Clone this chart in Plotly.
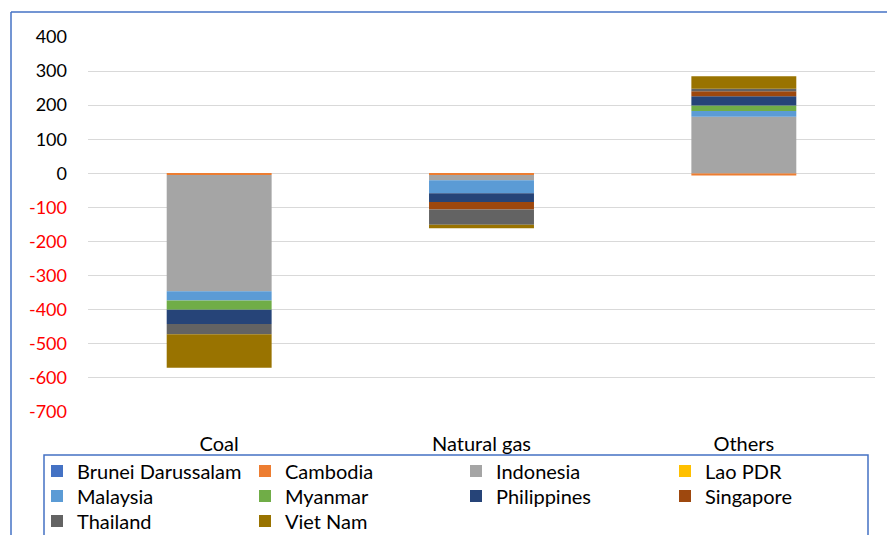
import plotly.graph_objects as go

categories = ["Coal", "Natural gas", "Others"]
countries = ["Brunei Darussalam", "Cambodia", "Indonesia", "Lao PDR", "Malaysia",
             "Myanmar", "Philippines", "Singapore", "Thailand", "Viet Nam"]
brunei = [0, 0, 0]
cambodia = [-5, -5, -6]
indonesia = [-341, -15, 166]
lao = [0, 0, 0]
malaysia = [-27, -38, 17]
myanmar = [-27, 0, 16]
philippines = [-42, -26, 27]
singapore = [0, -22, 15]
thailand = [-30, -45, 7]
vietnam = [-98, -10, 37]
series = [brunei, cambodia, indonesia, lao, malaysia, myanmar, philippines,
          singapore, thailand, vietnam]
colors = ["#4472C4", "#ED7D31", "#A5A5A5", "#FFC000", "#5B9BD5", "#70AD47",
          "#264478", "#9E480E", "#636363", "#997300"]

y_ticks = [400, 300, 200, 100, 0, -100, -200, -300, -400, -500, -600, -700]
y_ticktext = [str(v) if v >= 0 else f'<span style="color:#FF0000">{v}</span>' for v in y_ticks]

FONT = "Lato"
W, H = 887, 535
L, R, T, B = 88, 12, 37, 123
pw, ph = W - L - R, H - T - B

# legend grid (4 columns x 3 rows), pixel positions of each entry
col_x = [37, 245, 456, 665]
row_y = [471, 496, 521]

fig = go.Figure()
legend_layouts = {}
for i, (name, vals, col) in enumerate(zip(countries, series, colors)):
    key = "legend" if i == 0 else f"legend{i + 1}"
    fig.add_trace(go.Bar(x=categories, y=vals, name=name,
                         marker=dict(color=col, line=dict(width=0)),
                         width=0.4, legend=key))
    r, c = divmod(i, 4)
    legend_layouts[key] = dict(
        xref="container", yref="container", x=col_x[c] / W, y=1 - row_y[r] / H,
        xanchor="left", yanchor="middle", orientation="v",
        font=dict(size=20, family=FONT, color="#000000"),
        bgcolor="rgba(0,0,0,0)", borderwidth=0, itemwidth=30,
    )


def px(x):
    return (x - L) / pw


def py(y):
    return (H - B - y) / ph


fig.update_layout(
    width=W, height=H,
    margin=dict(l=L, r=R, t=T, b=B, autoexpand=False),
    barmode="relative",
    paper_bgcolor="white", plot_bgcolor="white",
    font=dict(family=FONT, size=20, color="#000000"),
    xaxis=dict(showgrid=False, showline=False, ticks="", ticklabelstandoff=18,
               tickfont=dict(size=20, family=FONT)),
    yaxis=dict(range=[-700, 400], tickvals=y_ticks, ticktext=y_ticktext,
               showgrid=True, gridcolor="#D9D9D9", gridwidth=1, zeroline=True,
               zerolinecolor="#D9D9D9", zerolinewidth=1, showline=False, ticks="",
               ticklabelstandoff=20, tickfont=dict(size=18, family=FONT)),
    showlegend=True,
    shapes=[
        dict(type="rect", xref="paper", yref="paper", x0=px(44), x1=px(868),
             y0=py(560), y1=py(455), line=dict(color="#4472C4", width=1.5)),
        dict(type="line", xref="paper", yref="paper", x0=px(11), x1=px(11),
             y0=py(560), y1=py(12), line=dict(color="#4472C4", width=1.5)),
        dict(type="line", xref="paper", yref="paper", x0=px(11), x1=px(900),
             y0=py(12), y1=py(12), line=dict(color="#4472C4", width=1.5)),
    ],
)
fig.update_layout(**legend_layouts)

fig.write_html("out.html")
